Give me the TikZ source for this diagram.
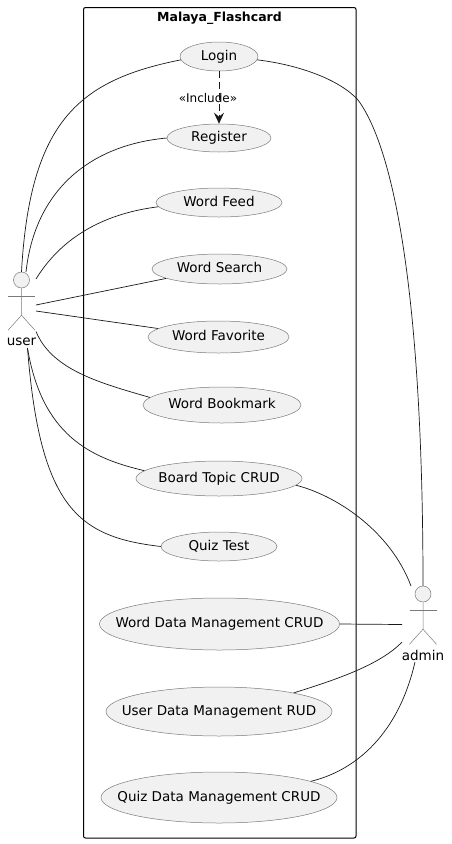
\documentclass[tikz,border=0pt]{standalone}
\usepackage{fontspec}
\setmainfont{DejaVu Sans}
\usetikzlibrary{arrows.meta,shapes.geometric}
\definecolor{txt}{HTML}{000000}
\definecolor{ucF}{HTML}{F1F1F1}
\definecolor{ucB}{HTML}{7A7A7A}
\definecolor{lnB}{HTML}{181818}
\newcommand{\uct}[1]{\raisebox{-3.5pt}[0pt][0pt]{\makebox[0pt]{#1}}}

\begin{document}
\begin{tikzpicture}[
  x=1pt,y=-1pt,
  font=\fontsize{13.5}{15}\selectfont,text=txt,
  uc/.style={ellipse,fill=ucF,draw=ucB,line width=0.5pt,inner sep=0pt},
  head/.style={circle,fill=ucF,draw=ucB,line width=0.5pt,minimum size=16pt,inner sep=0pt},
  limb/.style={draw=ucB,line width=0.5pt},
  lnk/.style={draw=lnB,line width=0.7pt},
  pkg/.style={draw=black,line width=1pt,rounded corners=2pt,inner sep=0pt},
  ]
\useasboundingbox (0,0) rectangle (451,844);

% ================= package =================
\node[pkg,minimum width=272.5pt,minimum height=830.5pt] (flash) at (219.75,422.75) {};
\node[font=\fontsize{12.5}{15}\selectfont\bfseries] (title) at (219.5,18) {Malaya\_Flashcard};

% ================= use cases =================
\node[uc,minimum width=78pt,minimum height=29pt] (login) at (219,56.5) {\uct{Login}};
\node[uc,minimum width=104pt,minimum height=28pt] (register) at (219,138) {\uct{Register}};
\node[uc,minimum width=126pt,minimum height=29pt] (feed) at (219,202.5) {\uct{Word Feed}};
\node[uc,minimum width=135pt,minimum height=30pt] (search) at (219.5,269) {\uct{Word Search}};
\node[uc,minimum width=141pt,minimum height=32pt] (favorite) at (218.5,337) {\uct{Word Favorite}};
\node[uc,minimum width=158pt,minimum height=36pt] (bookmark) at (222,405) {\uct{Word Bookmark}};
\node[uc,minimum width=166pt,minimum height=35pt] (board) at (219,478.5) {\uct{Board Topic CRUD}};
\node[uc,minimum width=116pt,minimum height=29pt] (quiz) at (219,546.5) {\uct{Quiz Test}};
\node[uc,minimum width=240pt,minimum height=52pt] (worddata) at (219.5,624) {\uct{Word Data Management CRUD}};
\node[uc,minimum width=226pt,minimum height=49pt] (userdata) at (219,711.5) {\uct{User Data Management RUD}};
\node[uc,minimum width=236pt,minimum height=51pt] (quizdata) at (219,797.5) {\uct{Quiz Data Management CRUD}};

% ================= actors =================
\foreach \a/\x/\y in {user/21.5/280,admin/423/594}{
  \node[head] (\a) at (\x,\y) {};
  \draw[limb] (\a.south) -- ++(0,27) coordinate (\a hip) -- ++(-13.5,15);
  \draw[limb] (\a hip) -- ++(13.5,15);
  \draw[limb] ([yshift=-8pt]\a.south) ++(-13.5,0) -- ++(27,0);
}
\node (userlabel) at (21.5,342) {user};
\node (adminlabel) at (423,655) {admin};

% ---- free ends around the actors ----
\coordinate (uA) at (26,272);
\coordinate (uB) at (36,279);
\coordinate (uC) at (36,305);
\coordinate (uD) at (36,311);
\coordinate (uE) at (36,331.5);
\coordinate (uF) at (27.5,348);
\coordinate (aA) at (411,586);
\coordinate (aB) at (402,624.5);
\coordinate (aC) at (402,642);
\coordinate (aD) at (415,662);
\coordinate (bend) at (358,100);

% ================= user links =================
\draw[lnk] (user.north) .. controls (30,120) and (80,80) .. (login.185);
\draw[lnk] (uA) .. controls (35,190) and (90,145) .. (register.west);
\draw[lnk] (uB) .. controls (60,240) and (100,214) .. (feed.184);
\draw[lnk] (uC) -- (search.190);
\draw[lnk] (uD) -- (favorite.172);
\draw[lnk] (uE) .. controls (52,370) and (100,383) .. (bookmark.174);
\draw[lnk] (uF) .. controls (42,435) and (90,458) .. (board.174);
\draw[lnk] (uF) .. controls (40,510) and (80,537) .. (quiz.west);

% ================= admin links =================
\draw[lnk] (login.-5) .. controls (300,65) and (340,80) .. (bend)
  .. controls (395,150) and (423,300) .. (admin.north);
\draw[lnk] (board.-5) .. controls (335,495) and (390,530) .. (aA);
\draw[lnk] (worddata.east) -- (aB);
\draw[lnk] (userdata.14) .. controls (335,680) and (380,665) .. (aC);
\draw[lnk] (quizdata.10) .. controls (350,772) and (397,740) .. (aD);

% ================= include =================
\draw[lnk,dash pattern=on 7pt off 4pt,-{Stealth[length=11pt,width=10pt,inset=4pt]}] (login) -- (register);
\node (incl) at (208,98) {\fontsize{12}{14}\selectfont «Include»};

\end{tikzpicture}
\end{document}
